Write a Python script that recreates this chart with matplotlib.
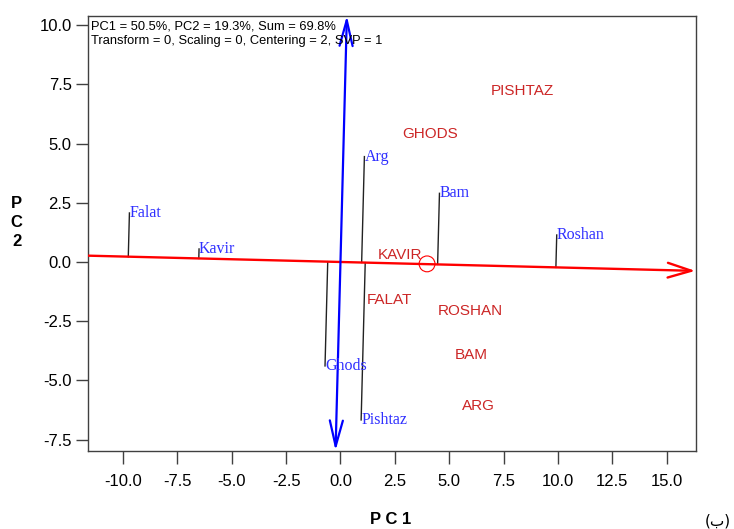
import matplotlib
matplotlib.use("Agg")
import matplotlib.pyplot as plt
from matplotlib.patches import FancyArrowPatch
from matplotlib.ticker import FixedLocator, FuncFormatter

# genotypes (red, upper case) - label centres in biplot coordinates
GEN_NAMES = ["PISHTAZ", "GHODS", "KAVIR", "FALAT", "ROSHAN", "BAM", "ARG"]
GEN_X = [8.37, 4.13, 2.74, 2.23, 5.98, 6.03, 6.36]
GEN_Y = [7.24, 5.40, 0.30, -1.62, -2.07, -3.92, -6.10]

# environments (blue) - point positions
ENV_NAMES = ["Falat", "Kavir", "Arg", "Bam", "Roshan", "Ghods", "Pishtaz"]
ENV_X = [-9.70, -6.50, 1.10, 4.55, 9.94, -0.71, 0.95]
ENV_Y = [2.07, 0.55, 4.45, 2.90, 1.14, -4.39, -6.67]

# average-environment marker and axis directions
AEC_X, AEC_Y = 3.98, -0.08
PC1_SLOPE = -0.023      # dy/dx of the red abscissa
PC2_TILT = 0.0283       # dx/dy of the blue ordinate

XTICKS = [-10.0, -7.5, -5.0, -2.5, 0.0, 2.5, 5.0, 7.5, 10.0, 12.5, 15.0]
YTICKS = [-7.5, -5.0, -2.5, 0.0, 2.5, 5.0, 7.5, 10.0]
XLIM = (-11.59, 16.34)
YLIM = (-7.97, 10.40)
INFO = "PC1 = 50.5%, PC2 = 19.3%, Sum = 69.8%\nTransform = 0, Scaling = 0, Centering = 2, SVP = 1"

RED, BLUE, TRED, TBLUE, EDGE = "#ff0000", "#0000ff", "#cc2626", "#3030ff", "#404040"
SANS, SERIF = "Liberation Sans", "Liberation Serif"

fig = plt.figure(figsize=(7.34, 5.29), dpi=100)
ax = fig.add_axes([0.1203, 0.148, 0.8279, 0.8223])
ax.set_xlim(*XLIM)
ax.set_ylim(*YLIM)

for s in ax.spines.values():
    s.set_color(EDGE)
    s.set_linewidth(1.0)

ax.xaxis.set_major_locator(FixedLocator(XTICKS))
ax.yaxis.set_major_locator(FixedLocator(YTICKS))
fmt = FuncFormatter(lambda v, p: f"{v:.1f}")
ax.xaxis.set_major_formatter(fmt)
ax.yaxis.set_major_formatter(fmt)
ax.tick_params(axis="x", length=9.5, width=1, color=EDGE, pad=7, labelsize=12)
ax.tick_params(axis="y", length=8.5, width=1, color=EDGE, pad=3.5, labelsize=12)
for lab in ax.get_xticklabels() + ax.get_yticklabels():
    lab.set_fontfamily(SANS)

# projection lines from each environment onto the PC1 line, parallel to PC2
for ex, ey in zip(ENV_X, ENV_Y):
    t = (PC1_SLOPE * ex - ey) / (1 - PC2_TILT * PC1_SLOPE)
    ax.plot([ex, ex + PC2_TILT * t], [ey, ey + t], color="#222222", lw=1.0, zorder=2)

# red abscissa with arrow at the right end
x0, x1 = XLIM[0], XLIM[1] - 0.03
ax.add_patch(FancyArrowPatch((x0, PC1_SLOPE * x0), (x1, PC1_SLOPE * x1),
                             arrowstyle="->,head_length=17,head_width=5.3",
                             mutation_scale=1, color=RED, lw=1.7,
                             shrinkA=0, shrinkB=0, zorder=3))

# blue ordinate, arrows at both ends
y0, y1 = YLIM[0], YLIM[1]
ax.add_patch(FancyArrowPatch((PC2_TILT * y0, y0), (PC2_TILT * y1, y1),
                             arrowstyle="<->,head_length=18.5,head_width=4.7",
                             mutation_scale=1, color=BLUE, lw=1.6,
                             shrinkA=0, shrinkB=0, zorder=4, clip_on=False))

ax.scatter([AEC_X], [AEC_Y], s=130, facecolors="none", edgecolors=RED, lw=0.8, zorder=5)

for n, x, y in zip(GEN_NAMES, GEN_X, GEN_Y):
    ax.text(x, y, n, color=TRED, fontsize=11, family=SANS, ha="center", va="center", zorder=6)

for n, x, y in zip(ENV_NAMES, ENV_X, ENV_Y):
    ax.text(x, y, n, color=TBLUE, fontsize=11.5, family=SERIF, ha="left", va="center", zorder=6)

ax.annotate(INFO, xy=(0, 1), xycoords="axes fraction", xytext=(3, -5),
            textcoords="offset pixels", ha="left", va="top", fontsize=9.3,
            family=SANS, linespacing=1.25, zorder=7)

fig.text(390.7 / 734, 1 - 519 / 529, "P C 1", ha="center", va="center",
         fontsize=12, fontweight="bold", family=SANS)
fig.text(16.7 / 734, 1 - 222.5 / 529, "P\nC\n2", ha="center", va="center",
         fontsize=12, fontweight="bold", family=SANS, linespacing=1.3)
fig.text(718 / 734, 1 - 521.5 / 529, "(ب)", ha="center", va="center",
         fontsize=11, family="DejaVu Sans")

fig.savefig("out.png", dpi=100)
